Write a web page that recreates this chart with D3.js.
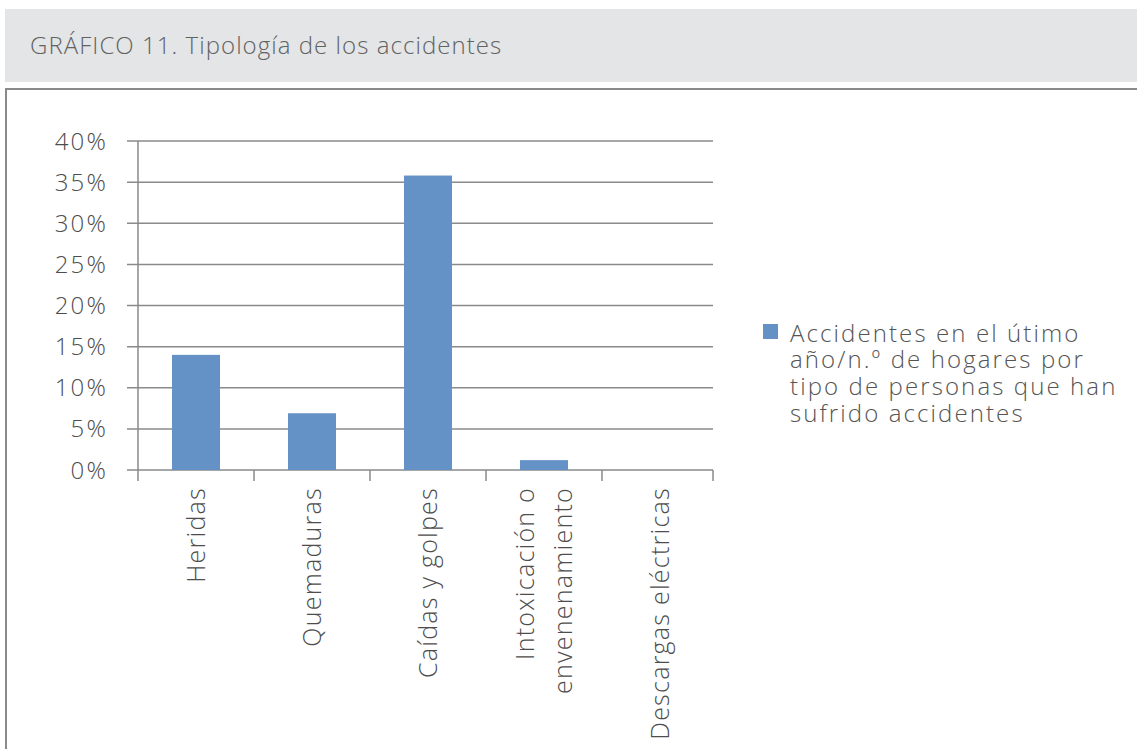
<!DOCTYPE html>
<html>
<head>
<meta charset="utf-8">
<script src="https://cdn.jsdelivr.net/npm/d3@7"></script>
<style>
  body { margin: 0; background: #fff; }
  text { font-family: "Open Sans", Roboto, sans-serif; }
</style>
</head>
<body>
<script>
// chart data
var categories = ["Heridas", "Quemaduras", "Caídas y golpes", "Intoxicación o envenenamiento", "Descargas eléctricas"];
var labelLines = [["Heridas"], ["Quemaduras"], ["Caídas y golpes"], ["Intoxicación o", "envenenamiento"], ["Descargas eléctricas"]];
var values = [0.14, 0.069, 0.358, 0.012, 0];
var yTicks = [0, 0.05, 0.10, 0.15, 0.20, 0.25, 0.30, 0.35, 0.40];
var seriesName = ["Accidentes en el útimo", "año/n.º de hogares por", "tipo de personas que han", "sufrido accidentes"];
var title = "GRÁFICO 11. Tipología de los accidentes";

var width = 1137, height = 749;
var svg = d3.select("body").append("svg")
    .attr("width", width)
    .attr("height", height);

var gridColor = "#8a8a8a";
var textColor = "#4d4d4d";
var barColor = "#6491c6";

// header band
svg.append("rect")
    .attr("x", 5).attr("y", 9)
    .attr("width", width - 5).attr("height", 73)
    .attr("fill", "#e4e5e6");
svg.append("text")
    .attr("x", 30).attr("y", 54)
    .attr("fill", "#616263")
    .attr("font-size", 24)
    .attr("font-weight", 300)
    .attr("letter-spacing", 1.05)
    .text(title);

// frame
svg.append("path")
    .attr("d", "M6," + height + "V89H" + width)
    .attr("fill", "none")
    .attr("stroke", gridColor)
    .attr("stroke-width", 2);

var plotLeft = 138, plotRight = 713, yTop = 141, yBottom = 470;

var x = d3.scaleBand().domain(categories).range([plotLeft, 718]);
var y = d3.scaleLinear().domain([0, 0.4]).range([yBottom, yTop]);
var barW = x.bandwidth() * 0.414;

// gridlines
svg.append("g").selectAll("line")
    .data(yTicks).enter().append("line")
    .attr("x1", plotLeft - 11).attr("x2", plotRight)
    .attr("y1", function(d) { return y(d); })
    .attr("y2", function(d) { return y(d); })
    .attr("stroke", gridColor)
    .attr("stroke-width", 1.5);

// y labels
svg.append("g").selectAll("text")
    .data(yTicks).enter().append("text")
    .attr("x", 108)
    .attr("y", function(d) { return y(d) + 8.5; })
    .attr("text-anchor", "end")
    .attr("fill", textColor)
    .attr("font-size", 24)
    .attr("font-weight", 300)
    .attr("letter-spacing", 2.2)
    .text(function(d) { return Math.round(d * 100) + "%"; });

// bars
svg.append("g").selectAll("rect")
    .data(values).enter().append("rect")
    .attr("x", function(d, i) { return x(categories[i]) + (x.bandwidth() - barW) / 2; })
    .attr("y", function(d) { return y(d); })
    .attr("width", barW)
    .attr("height", function(d) { return yBottom - y(d); })
    .attr("fill", barColor);

// y axis line and x ticks
svg.append("line")
    .attr("x1", plotLeft).attr("x2", plotLeft)
    .attr("y1", yTop).attr("y2", yBottom + 11)
    .attr("stroke", gridColor).attr("stroke-width", 1.5);
var tickPos = categories.map(function(c) { return Math.min(x(c) + x.step(), plotRight); });
svg.append("g").selectAll("line")
    .data(tickPos).enter().append("line")
    .attr("x1", function(d) { return d; })
    .attr("x2", function(d) { return d; })
    .attr("y1", yBottom).attr("y2", yBottom + 11)
    .attr("stroke", gridColor).attr("stroke-width", 1.5);

// x labels, rotated
var lineGap = 38;
labelLines.forEach(function(lines, i) {
    var cx = x(categories[i]) + x.bandwidth() / 2;
    var g = svg.append("g")
        .attr("transform", "translate(" + cx + "," + (yBottom + 17) + ") rotate(-90)");
    lines.forEach(function(t, j) {
        var off = (j - (lines.length - 1) / 2) * lineGap;
        g.append("text")
            .attr("x", 0)
            .attr("y", off + 9)
            .attr("text-anchor", "end")
            .attr("fill", textColor)
            .attr("font-size", 25)
            .attr("font-weight", 300)
            .attr("letter-spacing", 1.25)
            .text(t);
    });
});

// legend: one text block, lines as tspans
svg.append("rect")
    .attr("x", 763).attr("y", 324)
    .attr("width", 15).attr("height", 15)
    .attr("fill", barColor);
var legendText = svg.append("text")
    .attr("x", 790)
    .attr("y", 341.5)
    .attr("fill", "#555")
    .attr("font-size", 24)
    .attr("font-weight", 300)
    .attr("letter-spacing", 2.1);
legendText.selectAll("tspan")
    .data(seriesName).enter().append("tspan")
    .attr("x", 790)
    .attr("dy", function(d, i) { return i === 0 ? 0 : 26.8; })
    .text(function(d) { return d; });
</script>
</body>
</html>
